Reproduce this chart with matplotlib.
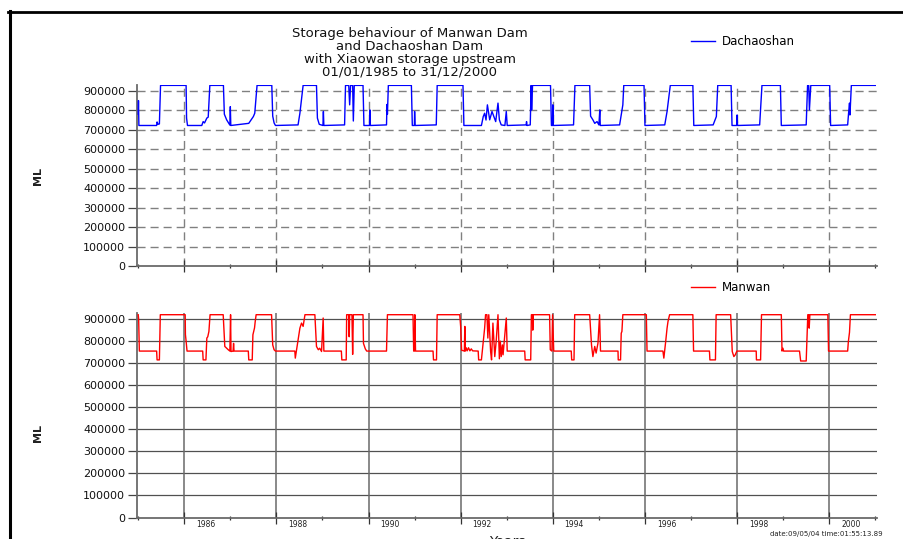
import matplotlib
matplotlib.use("Agg")
import matplotlib.pyplot as plt
from matplotlib.transforms import ScaledTranslation
from matplotlib.lines import Line2D

plt.rcParams['font.family'] = ['DejaVu Sans']

# ---------------- data (decimal years, storage in ML) ----------------
dach_years = [
    1985.000, 1985.006, 1985.015, 1985.400, 1985.410, 1985.430, 1985.460, 1985.485,
    1986.040, 1986.050, 1986.070, 1986.380, 1986.410, 1986.440, 1986.490, 1986.520, 1986.555,
    1986.850, 1986.870, 1986.920, 1986.990, 1987.000, 1987.010, 1987.400, 1987.500, 1987.530, 1987.580,
    1987.900, 1987.920, 1987.950, 1987.980, 1988.470, 1988.510, 1988.580,
    1988.870, 1988.890, 1988.930, 1989.010, 1989.020, 1989.030, 1989.480, 1989.500,
    1989.570, 1989.590, 1989.610, 1989.655, 1989.670, 1989.690, 1989.880, 1989.900,
    1990.020, 1990.030, 1990.040, 1990.390, 1990.400, 1990.410, 1990.430,
    1990.930, 1990.950, 1990.995, 1991.000, 1991.010, 1991.470, 1991.490,
    1992.050, 1992.070, 1992.450, 1992.490, 1992.520, 1992.550, 1992.580, 1992.630, 1992.680,
    1992.720, 1992.760, 1992.810, 1992.840, 1992.880, 1992.960, 1992.990, 1993.010,
    1993.420, 1993.430, 1993.440, 1993.510, 1993.530, 1993.540, 1993.560,
    1993.950, 1993.970, 1993.995, 1994.000, 1994.010, 1994.450, 1994.480,
    1994.800, 1994.820, 1994.870, 1994.910, 1994.960, 1995.000, 1995.020, 1995.030,
    1995.450, 1995.490, 1995.520, 1995.540, 1995.980, 1996.000, 1996.430, 1996.480, 1996.550,
    1997.040, 1997.060, 1997.480, 1997.550, 1997.580, 1997.870, 1997.890,
    1997.990, 1998.000, 1998.010, 1998.490, 1998.540, 1998.940, 1998.960,
    1999.500, 1999.530, 1999.555, 1999.570, 1999.600, 2000.010, 2000.030,
    2000.400, 2000.420, 2000.440, 2000.450, 2000.480, 2001.000,
]
dach_storage = [
    780000, 850000, 722000, 722000, 740000, 728000, 730000, 928000,
    928000, 760000, 722000, 722000, 742000, 735000, 760000, 765000, 928000,
    928000, 780000, 751000, 724000, 819000, 722000, 733000, 768000, 785000, 928000,
    928000, 770000, 735000, 722000, 725000, 785000, 928000,
    928000, 760000, 728000, 722000, 794000, 722000, 725000, 928000,
    928000, 828000, 928000, 928000, 745000, 928000, 928000, 722000,
    722000, 802000, 722000, 725000, 830000, 780000, 928000,
    928000, 722000, 722000, 794000, 722000, 725000, 928000,
    928000, 722000, 722000, 768000, 785000, 750000, 828000, 751000, 794000,
    768000, 742000, 837000, 751000, 725000, 722000, 794000, 722000,
    725000, 742000, 722000, 725000, 928000, 802000, 928000,
    928000, 722000, 722000, 828000, 722000, 725000, 928000,
    928000, 770000, 751000, 733000, 742000, 725000, 802000, 722000,
    725000, 785000, 828000, 928000, 928000, 722000, 725000, 794000, 928000,
    928000, 722000, 725000, 768000, 928000, 928000, 722000,
    722000, 776000, 722000, 725000, 928000, 928000, 722000,
    725000, 928000, 928000, 802000, 928000, 928000, 722000,
    725000, 785000, 837000, 776000, 928000, 928000,
]

manwan_years = [
    1985.000, 1985.010, 1985.025, 1985.400, 1985.410, 1985.460, 1985.480,
    1986.020, 1986.025, 1986.040, 1986.060, 1986.400, 1986.410, 1986.470, 1986.490, 1986.510, 1986.535, 1986.560,
    1986.845, 1986.880, 1986.955, 1986.990, 1987.005, 1987.015, 1987.060, 1987.070, 1987.080,
    1987.390, 1987.400, 1987.475, 1987.490, 1987.525, 1987.540, 1987.560,
    1987.895, 1987.920, 1987.950, 1987.980, 1988.400, 1988.410, 1988.460, 1988.510, 1988.545, 1988.580, 1988.620,
    1988.835, 1988.870, 1988.910, 1988.940, 1988.980, 1989.015, 1989.030,
    1989.410, 1989.420, 1989.515, 1989.525, 1989.570, 1989.580, 1989.590, 1989.640, 1989.655, 1989.670,
    1989.880, 1989.890, 1989.930, 1989.960, 1990.390, 1990.410,
    1990.965, 1990.980, 1990.995, 1991.005, 1991.020, 1991.400, 1991.410, 1991.475, 1991.490,
    1991.980, 1992.000, 1992.020, 1992.080, 1992.090, 1992.100, 1992.120, 1992.140, 1992.170, 1992.200,
    1992.230, 1992.260, 1992.380, 1992.390, 1992.450, 1992.490, 1992.520, 1992.540, 1992.570, 1992.590,
    1992.610, 1992.650, 1992.670, 1992.690, 1992.700, 1992.740, 1992.770, 1992.810, 1992.840, 1992.860,
    1992.880, 1992.905, 1992.920, 1992.990, 1993.010,
    1993.390, 1993.400, 1993.520, 1993.535, 1993.560, 1993.565, 1993.575,
    1993.930, 1993.945, 1993.980, 1993.995, 1994.020, 1994.400, 1994.410, 1994.460, 1994.475,
    1994.800, 1994.840, 1994.870, 1994.910, 1994.940, 1994.980, 1995.015, 1995.035,
    1995.415, 1995.420, 1995.470, 1995.485, 1995.500, 1995.520, 1996.030, 1996.045,
    1996.390, 1996.410, 1996.450, 1996.480, 1996.500, 1996.535, 1997.040, 1997.055,
    1997.400, 1997.410, 1997.530, 1997.545, 1997.860, 1997.895, 1997.930, 1997.960, 1997.995,
    1998.415, 1998.420, 1998.510, 1998.530, 1998.960, 1998.975, 1998.995, 1999.010,
    1999.355, 1999.380, 1999.500, 1999.535, 1999.555, 1999.565, 1999.580, 1999.970, 1999.985,
    2000.400, 2000.415, 2000.440, 2000.460, 2001.000,
]
manwan_storage = [
    920000, 900000, 755000, 755000, 715000, 715000, 920000,
    920000, 830000, 800000, 755000, 755000, 715000, 715000, 814000, 820000, 844000, 920000,
    920000, 776000, 761000, 755000, 920000, 753000, 755000, 790000, 755000,
    755000, 715000, 715000, 829000, 860000, 889000, 920000,
    920000, 783000, 761000, 755000, 755000, 723000, 791000, 859000, 882000, 867000, 920000,
    920000, 776000, 761000, 768000, 753000, 905000, 755000,
    755000, 715000, 715000, 920000, 920000, 820000, 920000, 920000, 740000, 920000,
    920000, 790000, 765000, 755000, 755000, 920000,
    920000, 755000, 755000, 920000, 755000, 755000, 715000, 715000, 920000,
    920000, 865000, 759000, 755000, 867000, 755000, 770000, 756000, 770000, 756000,
    765000, 756000, 755000, 715000, 715000, 798000, 859000, 920000, 920000, 814000,
    920000, 753000, 715000, 829000, 882000, 730000, 798000, 920000, 720000, 800000,
    730000, 783000, 738000, 905000, 755000,
    755000, 715000, 715000, 920000, 920000, 850000, 920000,
    920000, 761000, 755000, 920000, 755000, 755000, 715000, 715000, 920000,
    920000, 783000, 730000, 776000, 746000, 791000, 920000, 755000,
    755000, 715000, 715000, 836000, 844000, 920000, 920000, 755000,
    755000, 723000, 798000, 859000, 889000, 920000, 920000, 755000,
    755000, 715000, 715000, 920000, 920000, 753000, 730000, 738000, 755000,
    755000, 715000, 715000, 920000, 920000, 755000, 768000, 755000,
    755000, 710000, 710000, 920000, 920000, 859000, 920000, 920000, 755000,
    755000, 797000, 840000, 920000, 920000,
]

y_ticks = [0, 100000, 200000, 300000, 400000, 500000, 600000, 700000, 800000, 900000]
y_tick_labels = ["0", "100000", "200000", "300000", "400000", "500000",
                 "600000", "700000", "800000", "900000"]
year_ticks = [1986, 1988, 1990, 1992, 1994, 1996, 1998, 2000]
year_labels = ["1986", "1988", "1990", "1992", "1994", "1996", "1998", "2000"]
minor_years = [1985, 1987, 1989, 1991, 1993, 1995, 1997, 1999, 2001]

title_lines = ["Storage behaviour of Manwan Dam", "and Dachaoshan Dam",
               "with Xiaowan storage upstream", "01/01/1985 to 31/12/2000"]

# ---------------- figure ----------------
W, H = 904, 539
fig = plt.figure(figsize=(W / 100, H / 100), dpi=100)

ax1 = fig.add_axes([137 / W, 1 - 266 / H, 740 / W, 181 / H])
ax2 = fig.add_axes([137 / W, 1 - 517.5 / H, 740 / W, 205 / H])

spine_col = '#6a6a6a'
for ax in (ax1, ax2):
    ax.set_xlim(1984.974, 2001.037)
    ax.set_ylim(0, 930000)
    for s in ('top', 'right'):
        ax.spines[s].set_visible(False)
    for s in ('left', 'bottom'):
        ax.spines[s].set_color(spine_col)
        ax.spines[s].set_linewidth(1.3)
    ax.set_yticks(y_ticks, labels=y_tick_labels)
    ax.set_xticks(year_ticks)
    ax.set_xticks(minor_years, minor=True)
    ax.tick_params(axis='y', direction='out', length=6.5, width=0.9, color='#444444',
                   labelsize=8, pad=2, labelcolor='#111111')
    ax.tick_params(axis='x', which='major', direction='inout', length=9, width=0.9,
                   color='#333333')
    ax.tick_params(axis='x', which='minor', direction='inout', length=3, width=0.9,
                   color='#333333')
    ax.set_axisbelow(True)

# top panel: dashed grid
ax1.set_xticklabels([])
for yv in y_ticks[1:]:
    ax1.axhline(yv, color='#808080', lw=1.0, ls=(0, (5.8, 3.6)), zorder=0)
for xv in year_ticks:
    ax1.axvline(xv, color='#808080', lw=1.0, ls=(0, (5.8, 3.6)), zorder=0)
ax1.plot(dach_years, dach_storage, color='#0000ff', lw=1.0, label='Dachaoshan', zorder=3)

# bottom panel: solid grid
for yv in y_ticks[1:]:
    ax2.axhline(yv, color='#505050', lw=0.9, zorder=0)
for xv in year_ticks:
    ax2.axvline(xv, color='#6a6a6a', lw=1.1, zorder=0)
ax2.plot(manwan_years, manwan_storage, color='#ff0000', lw=1.0, label='Manwan', zorder=3)
ax2.set_xticks(year_ticks, labels=year_labels)
ax2.tick_params(axis='x', which='major', labelsize=5.5, pad=1, labelcolor='#222222')
offset = ScaledTranslation(0.215, 0.055, fig.dpi_scale_trans)
for lab in ax2.get_xticklabels():
    lab.set_transform(lab.get_transform() + offset)

# legends
ax1.legend(loc='center left', bbox_to_anchor=(691 / W, 1 - 41.7 / H), bbox_transform=fig.transFigure,
           frameon=False, borderpad=0, borderaxespad=0, handlelength=2.0, handletextpad=0.6,
           fontsize=8.5)
ax2.legend(loc='center left', bbox_to_anchor=(691 / W, 1 - 287.5 / H), bbox_transform=fig.transFigure,
           frameon=False, borderpad=0, borderaxespad=0, handlelength=2.0, handletextpad=0.6,
           fontsize=8.5)

# title
for i, line in enumerate(title_lines):
    fig.text(410 / W, 1 - (33 + 13 * i) / H, line, ha='center', va='center', fontsize=9.5,
             color='#111111')

# y labels
fig.text(38 / W, 1 - 176 / H, 'ML', rotation=90, ha='center', va='center', fontsize=8,
         fontweight='bold', color='#222222')
fig.text(38 / W, 1 - 433 / H, 'ML', rotation=90, ha='center', va='center', fontsize=8,
         fontweight='bold', color='#222222')

# x label (cut by the image edge, as in the original)
fig.text(507 / W, 1 - 535 / H, 'Years', ha='center', va='top', fontsize=10, color='#222222')

# timestamp
fig.text(883 / W, 1 - 534 / H, 'date:09/05/04 time:01:55:13.89', ha='right', va='center',
         fontsize=5, color='#222222')

# outer frame
fig.add_artist(Line2D([8 / W, 1.0], [1 - 12 / H, 1 - 12 / H], transform=fig.transFigure,
                      color='black', lw=2.0))
fig.add_artist(Line2D([9.5 / W, 9.5 / W], [0.0, 1 - 11 / H], transform=fig.transFigure,
                      color='black', lw=2.2))

fig.savefig('out.png', dpi=100)
